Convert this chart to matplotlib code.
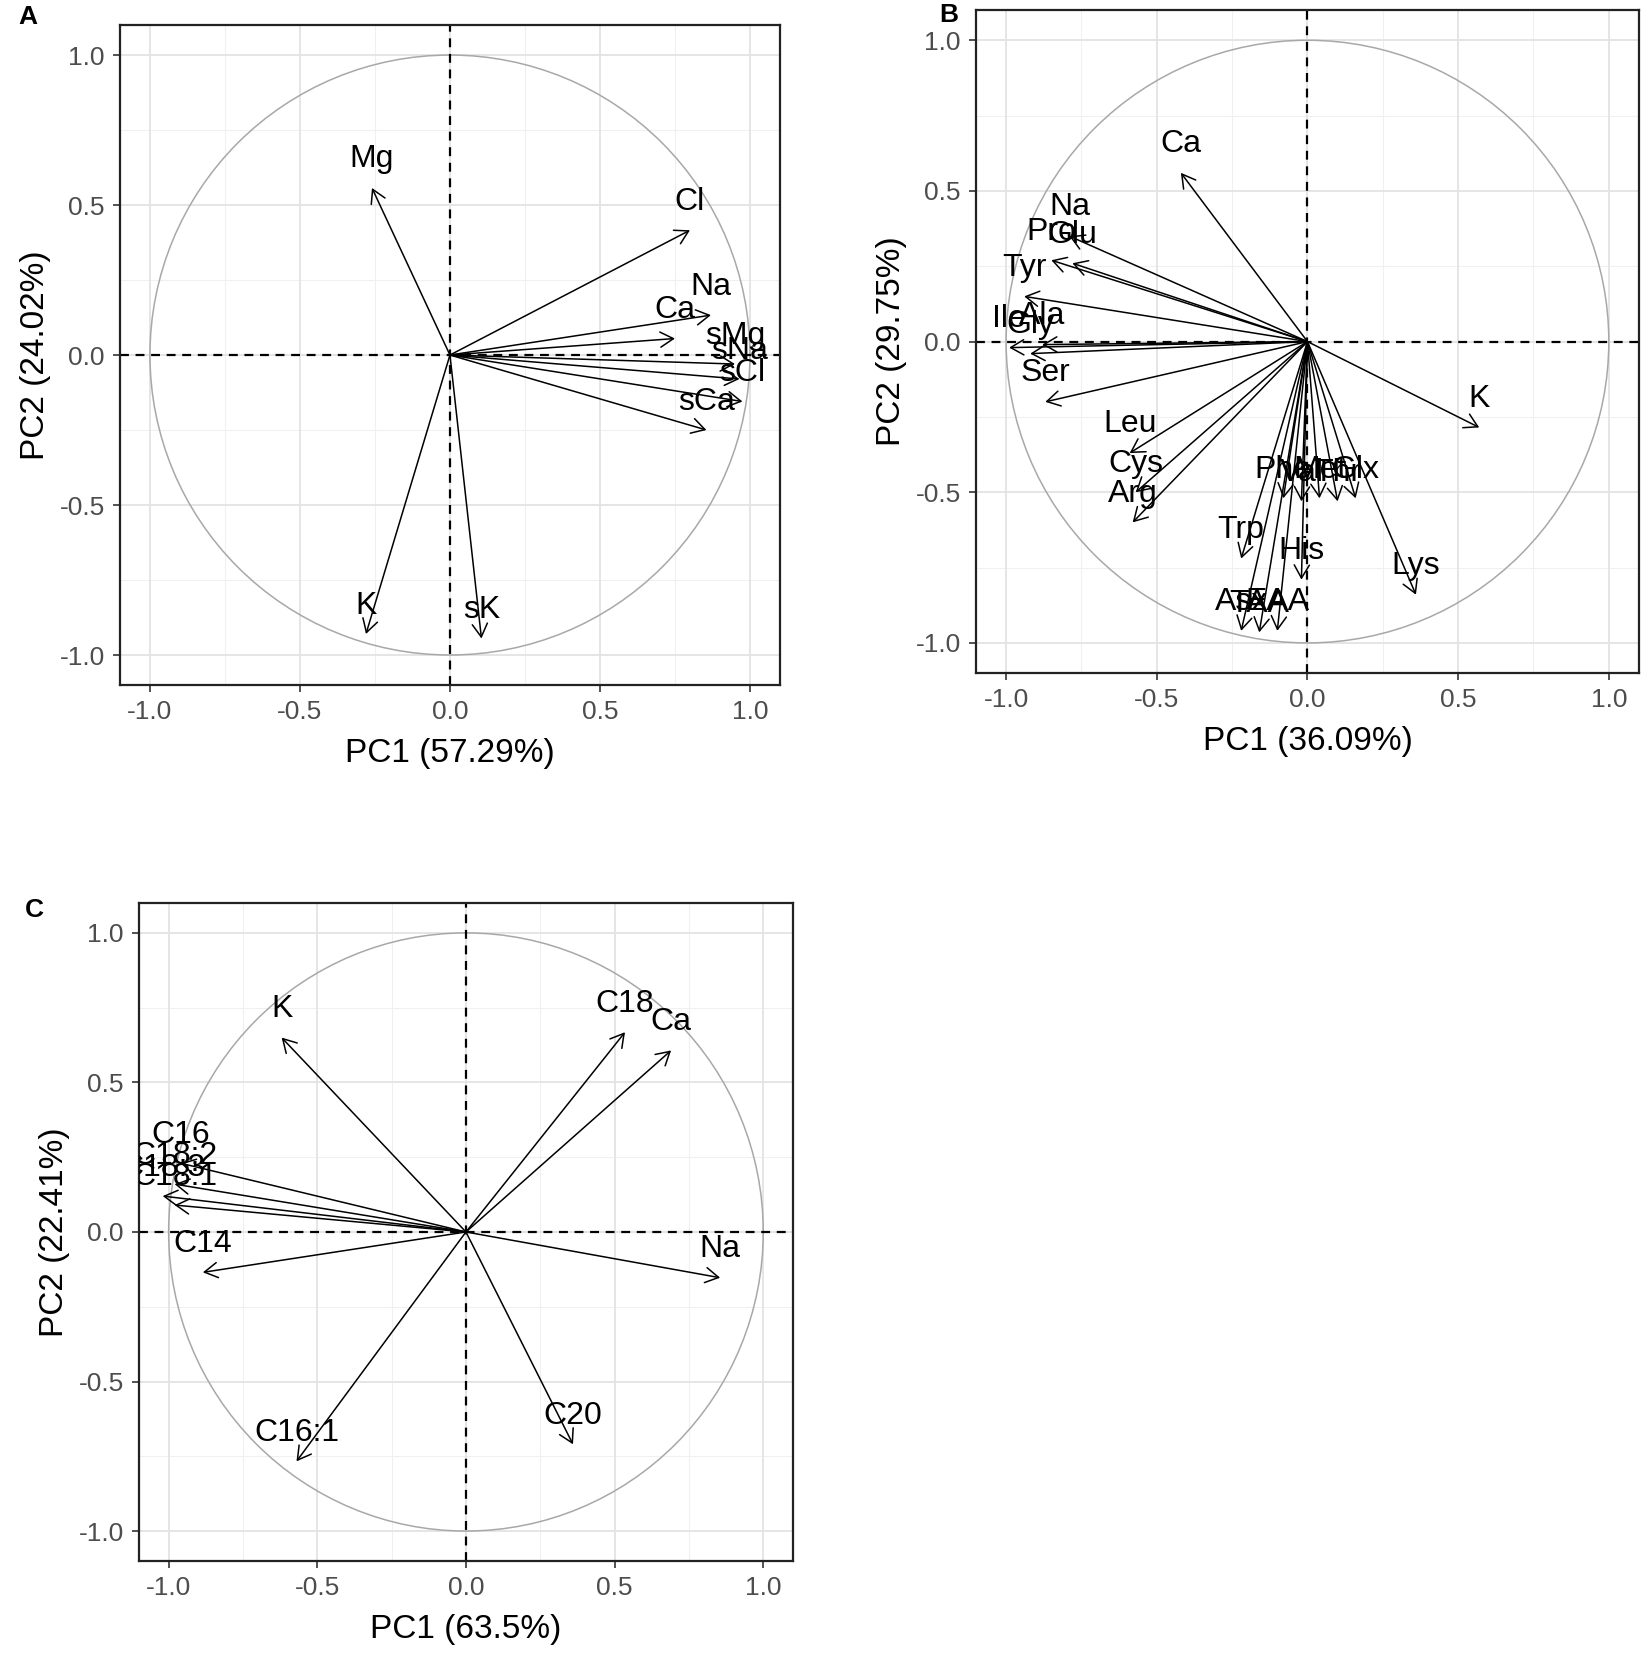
import matplotlib.pyplot as plt
import matplotlib.patches as mpatches
import numpy as np

plt.rcParams['font.family'] = ['Liberation Sans', 'DejaVu Sans']

# panel A: minerals
a_vars = ["Mg", "Cl", "Na", "Ca", "sMg", "sNa", "sCl", "sCa", "K", "sK"]
a_pc1 = [-0.26, 0.80, 0.87, 0.75, 0.95, 0.965, 0.975, 0.855, -0.28, 0.105]
a_pc2 = [0.557, 0.416, 0.133, 0.055, -0.03, -0.08, -0.155, -0.25, -0.93, -0.945]

# panel B: amino acids
b_vars = ["Ca", "Na", "Pro", "Glu", "Tyr", "Ala", "Ile", "Gly", "Ser", "Leu", "Cys", "Arg",
          "Trp", "His", "Lys", "Asx", "TAA", "EAA", "Phe", "Val", "Met", "Thr", "Glx", "K"]
b_pc1 = [-0.42, -0.79, -0.85, -0.78, -0.94, -0.88, -0.99, -0.92, -0.87, -0.59, -0.57, -0.58,
         -0.22, -0.02, 0.36, -0.22, -0.16, -0.10, -0.08, -0.02, 0.04, 0.10, 0.16, 0.57]
b_pc2 = [0.56, 0.35, 0.27, 0.26, 0.15, -0.01, -0.02, -0.04, -0.20, -0.37, -0.50, -0.60,
         -0.72, -0.79, -0.84, -0.96, -0.965, -0.96, -0.52, -0.53, -0.52, -0.53, -0.52, -0.285]

# panel C: fatty acids
c_vars = ["K", "C18", "Ca", "Na", "C14", "C20", "C16:1", "C16", "C18:2", "C18:3", "C18:1"]
c_pc1 = [-0.62, 0.535, 0.69, 0.855, -0.885, 0.36, -0.57, -0.96, -0.98, -1.02, -0.98]
c_pc2 = [0.65, 0.668, 0.607, -0.153, -0.135, -0.71, -0.767, 0.23, 0.16, 0.12, 0.09]

panels = [
    ("A", a_vars, a_pc1, a_pc2, "PC1 (57.29%)", "PC2 (24.02%)", [0.0727, 0.5871, 0.400, 0.3978]),
    ("B", b_vars, b_pc1, b_pc2, "PC1 (36.09%)", "PC2 (29.75%)", [0.5915, 0.5943, 0.4018, 0.3996]),
    ("C", c_vars, c_pc1, c_pc2, "PC1 (63.5%)", "PC2 (22.41%)", [0.0842, 0.0591, 0.3964, 0.3966]),
]
letter_pos = {"A": (0.011, 0.997), "B": (0.569, 0.998), "C": (0.015, 0.459)}

fig = plt.figure(figsize=(16.5, 16.59), dpi=100)

ticks = [-1.0, -0.5, 0.0, 0.5, 1.0]
minor = [-0.75, -0.25, 0.25, 0.75]

for letter, names, pc1, pc2, xlab, ylab, rect in panels:
    ax = fig.add_axes(rect)
    ax.set_xlim(-1.1, 1.1)
    ax.set_ylim(-1.1, 1.1)

    # grid like theme_bw
    for v in minor:
        ax.axvline(v, color="#f0f0f0", lw=0.8, zorder=0)
        ax.axhline(v, color="#f0f0f0", lw=0.8, zorder=0)
    for v in ticks:
        ax.axvline(v, color="#e3e3e3", lw=1.3, zorder=0)
        ax.axhline(v, color="#e3e3e3", lw=1.3, zorder=0)

    circ = mpatches.Circle((0, 0), 1.0, fill=False, ec="#a8a8a8", lw=1.1, zorder=1)
    ax.add_patch(circ)
    ax.axhline(0, color="black", lw=1.6, ls=(0, (4, 3)), zorder=2)
    ax.axvline(0, color="black", lw=1.6, ls=(0, (4, 3)), zorder=2)

    for name, x, y in zip(names, pc1, pc2):
        ax.annotate("", xy=(x, y), xytext=(0, 0),
                    arrowprops=dict(arrowstyle="->, head_length=0.45, head_width=0.26",
                                    mutation_scale=21, lw=1.1, color="black",
                                    shrinkA=0, shrinkB=0), zorder=3)
        t = ax.text(x, y + 0.095, name, ha="center", va="center", fontsize=23,
                    color="black", zorder=4)
        t.set_clip_on(True)

    ax.set_xticks(ticks)
    ax.set_yticks(ticks)
    ax.set_xticklabels(["-1.0", "-0.5", "0.0", "0.5", "1.0"])
    ax.set_yticklabels(["-1.0", "-0.5", "0.0", "0.5", "1.0"])
    ax.tick_params(labelsize=19, labelcolor="#4d4d4d", color="#333333",
                   length=5, width=1.2, pad=6)
    for sp in ax.spines.values():
        sp.set_color("#222222")
        sp.set_linewidth(1.6)
    ax.set_xlabel(xlab, fontsize=24, color="black", labelpad=10)
    ax.set_ylabel(ylab, fontsize=24, color="black", labelpad=6)

    fig.text(letter_pos[letter][0], letter_pos[letter][1], letter, fontsize=19,
             fontweight="bold", ha="left", va="top")

fig.savefig("out.png", dpi=100)
